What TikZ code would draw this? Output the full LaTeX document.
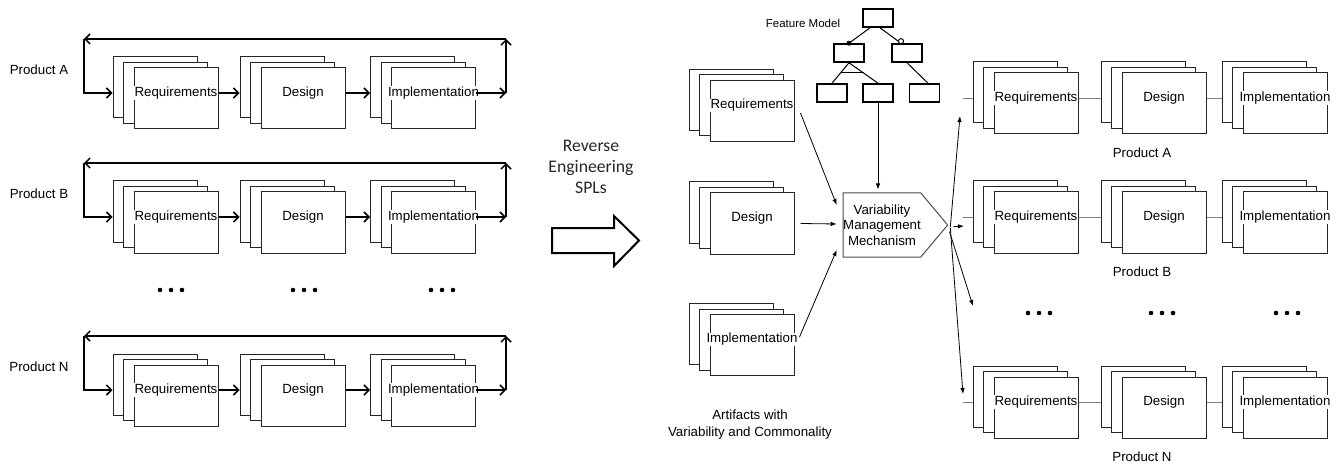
\documentclass[tikz,border=0pt]{standalone}
\usepackage{fontspec}
\setmainfont{Liberation Sans}
\newfontfamily\calibfont{Carlito}
\usetikzlibrary{arrows.meta,positioning,shapes.symbols}

\newcommand\lblsize{\fontsize{13.3}{15.5}\selectfont}

% a stack of three pages, the front page is named #1
\newcommand\pagestack[4]{%
  \node[page] (#1b) at (#2-21,#3-11) {};
  \node[page] (#1m) at (#2-10.5,#3-5.5) {};
  \node[page] (#1) at (#2,#3) {};
  \node[pagelabel] (#1t) at (#2,#3-5.5) {#4};
  \coordinate (#1in) at (#1b.west |- #1t.center);
  \coordinate (#1out) at (#1.east |- #1t.center);
}

\begin{document}
\begin{tikzpicture}
[x=1pt, y=-1pt, font=\lblsize,
% STYLES
page/.style={rectangle, draw=black!85, line width=1pt, fill=white, minimum width=84pt, minimum height=61pt, inner sep=0pt},
pagelabel/.style={fill=white, inner sep=0.5pt, font=\lblsize},
% thick arrows of the product loops
flow/.style={line width=1.8pt, -{Straight Barb[length=5pt,width=10pt,line width=1.5pt]}},
% thin arrows round the mechanism
link/.style={line width=0.8pt, -{Latex[length=6pt,width=4.5pt]}},
stub/.style={draw=gray, line width=0.8pt},
feat/.style={rectangle, draw, line width=1.6pt, minimum width=30pt, minimum height=18pt, inner sep=0pt},
mech/.style={signal, signal to=east, signal pointer angle=100, draw=black!70, line width=1pt, minimum width=103pt, minimum height=64pt, align=center, inner sep=0pt, font=\fontsize{13.3}{15.5}\selectfont}]

\useasboundingbox (0,0) rectangle (1342,468);

% Products built one by one
\foreach \r/\y in {A/98.5,B/222.5,N/395.5}{
  \pagestack{req\r}{176}{\y}{Requirements}
  \pagestack{des\r}{303}{\y}{Design}
  \pagestack{imp\r}{433.5}{\y}{Implementation}
  \node (prod\r) at (39,\y-29) {Product \r};
  \coordinate (loop\r a) at (506,\y-5.5);
  \coordinate (loop\r b) at (506,\y-59.5);
  \coordinate (loop\r c) at (84,\y-59.5);
  \draw[flow] (req\r out) -- (des\r in);
  \draw[flow] (des\r out) -- (imp\r in);
  \draw[flow] (imp\r out) -- (loop\r a);
  \draw[flow] (loop\r a) -- (loop\r b);
  \draw[flow] (loop\r b) -- (loop\r c);
  \draw[flow] (loop\r c) |- (req\r in);
}
\foreach \x in {171,304,442}
  \foreach \d in {-11,0,11}
    \fill (\x+\d,290) circle (2.3);

% Reverse engineering
\node[font=\calibfont\fontsize{17.7}{21}\selectfont, align=center, text=black!85] (rev) at (591,167) {Reverse\\Engineering\\SPLs};
\draw[line width=2pt, fill=white] (552,228) -- (614,228) -- (614,216) -- (639,240.5) -- (614,266) -- (614,253) -- (552,253) -- cycle;

% Artifacts
\pagestack{artreq}{752}{111}{Requirements}
\pagestack{artdes}{752}{223.5}{Design}
\pagestack{artimp}{752}{345}{Implementation}
\node[align=center, font=\fontsize{13.3}{17}\selectfont] (artlabel) at (750,424.5) {Artifacts with\\Variability and Commonality};

% Feature model
\node[font=\fontsize{11.5}{13}\selectfont] (fmtitle) at (803,23) {Feature Model};
\node[feat] (fmroot) at (878,18) {};
\node[feat] (fmleft) at (849,53) {};
\node[feat] (fmright) at (907,53) {};
\node[feat] (fmll) at (832,93) {};
\node[feat] (fmlm) at (878,93) {};
\node[feat] (fmrr) at (924.5,93) {};
\draw[line width=1pt] ([xshift=-8pt]fmroot.south) -- (fmleft.north);
\draw[line width=1pt] ([xshift=2pt]fmroot.south) -- ([xshift=-6pt]fmright.north);
\fill (fmleft.north) circle (2.5);
\draw[line width=1pt, fill=white] ([xshift=-6pt,yshift=2pt]fmright.north) circle (2.6);
\draw[line width=1pt] (fmleft.south) -- (fmll.north) coordinate[pos=0.5] (altl);
\draw[line width=1pt] (fmleft.south) -- (fmlm.north) coordinate[pos=0.5] (altr);
\draw[line width=1pt] (altl) -- (altr);
\draw[line width=1pt] (fmright.south) -- ([xshift=3.5pt]fmrr.north);

% Variability management
\node[mech] (vmm) at (882,225) {Variability\\Management\\Mechanism};
\draw[link] (fmlm.south) -- ([yshift=3pt]fmlm.south |- vmm.north);
\draw[link] ([xshift=6pt,yshift=-2pt]artreq.east) -- ([xshift=-6pt,yshift=20pt]vmm.west);
\draw[link] ([xshift=6pt]artdes.east) -- ([xshift=-6pt,yshift=1pt]vmm.west);
\draw[link] ([xshift=5pt,yshift=8pt]artimp.east) -- ([xshift=-6pt,yshift=-25pt]vmm.west);

% Derived products
\foreach \r/\y in {A/103.5,B/222.5,N/407.5}{
  \pagestack{rreq\r}{1036}{\y}{Requirements}
  \pagestack{rdes\r}{1164}{\y}{Design}
  \pagestack{rimp\r}{1285}{\y}{Implementation}
  \node (rprod\r) at (1142,\y+49.5) {Product \r};
  \coordinate (stub\r) at (963,\y-5.5);
  \draw[stub] (stub\r) -- (rreq\r in);
  \draw[stub] (rreq\r out) -- (rdes\r in);
  \draw[stub] (rdes\r out) -- (rimp\r in);
}
\foreach \x in {1039,1162,1287}
  \foreach \d in {-11,0,11}
    \fill (\x+\d,313) circle (2.3);

\coordinate (outA) at (960,116);
\coordinate (outB) at (964,226);
\coordinate (outD) at (973,306);
\coordinate (outN) at (963,394);
\draw[link] ([xshift=2pt,yshift=-2pt]vmm.east) -- (outA);
\draw[link, shorten <=5pt] ([yshift=-2pt]vmm.east) -- (outB);
\draw[link, shorten <=4pt] ([yshift=-3pt]vmm.east) -- (outD);
\draw[link] ([xshift=2pt,yshift=-3pt]vmm.east) -- (outN);

\end{tikzpicture}
\end{document}
